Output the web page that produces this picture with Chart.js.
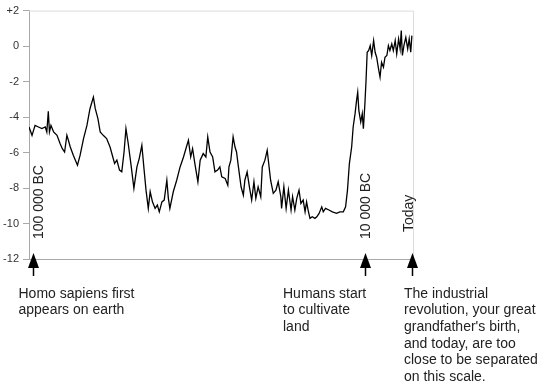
<!DOCTYPE html>
<html>
<head>
<title>Temperature, last 100 000 years</title>
<script src="https://cdn.jsdelivr.net/npm/chart.js"></script>
<style>
    body { margin: 0; background: #fff; }
    canvas { display: block; }
</style>
</head>
<body>
<canvas id="tempChart" width="544" height="390"></canvas>
<script>
// thousands of years before today (negative = the past)
const years = [-101.1,-100.3,-99.5,-98.6,-97.7,-96.8,-96.4,-96.0,-95.7,-95.3,-94.6,-93.7,-92.9,-92.3,-91.7,-91.1,-90.7,-90.2,-89.4,-88.3,
    -87.6,-86.7,-85.8,-85.0,-84.1,-83.6,-82.9,-82.3,-81.5,-80.6,-79.7,-79.1,-78.5,-77.9,-77.2,-76.6,-76.0,-75.5,-74.9,-74.2,
    -73.4,-72.6,-72.0,-71.3,-70.7,-70.2,-69.6,-69.1,-68.5,-67.8,-67.2,-66.7,-66.0,-65.4,-64.7,-64.3,-63.9,-63.0,-62.1,-61.2,
    -60.3,-59.4,-59.0,-58.4,-57.9,-57.3,-56.5,-55.9,-55.1,-54.4,-53.9,-53.3,-52.6,-52.0,-51.3,-50.7,-50.2,-49.3,-48.6,-48.3,
    -47.8,-47.2,-46.7,-46.3,-45.8,-45.1,-44.5,-44.1,-43.5,-42.9,-42.3,-41.7,-41.2,-40.6,-39.9,-39.5,-38.8,-38.2,-37.7,-37.3,
    -36.6,-35.9,-35.3,-34.6,-34.4,-33.8,-33.2,-32.6,-31.9,-31.5,-30.9,-30.4,-29.8,-29.3,-28.7,-28.2,-27.8,-27.4,-26.9,-26.3,
    -25.6,-25.1,-24.5,-23.8,-23.4,-22.8,-21.9,-21.0,-19.9,-19.0,-18.1,-17.5,-17.0,-16.5,-15.9,-15.5,-15.0,-14.6,-14.3,-14.0,
    -13.5,-13.1,-12.8,-12.4,-12.1,-11.8,-11.4,-11.0,-10.6,-10.1,-9.7,-9.3,-8.8,-8.4,-8.0,-7.5,-7.1,-6.6,-6.2,-5.8,
    -5.3,-4.9,-4.4,-4.0,-3.5,-3.1,-2.8,-2.5,-2.1,-1.6,-1.1,-0.7,-0.3,0.0];

// temperature difference from today, degrees
const temps = [-4.56,-5.03,-4.47,-4.56,-4.65,-4.56,-4.84,-3.68,-4.84,-4.47,-4.84,-5.03,-5.49,-5.78,-5.97,-5.03,-5.31,-5.69,-6.15,-6.71,
    -6.15,-5.21,-4.47,-3.53,-2.88,-3.53,-4.09,-4.84,-5.03,-5.21,-5.69,-6.15,-6.62,-6.43,-6.99,-7.09,-5.97,-4.65,-5.49,-6.62,
    -8.02,-6.81,-6.34,-5.59,-6.99,-8.12,-9.15,-8.21,-8.78,-9.15,-8.96,-9.34,-8.78,-8.68,-7.56,-8.58,-9.15,-8.21,-7.56,-6.81,
    -6.25,-5.59,-5.31,-6.25,-5.78,-6.62,-7.65,-6.43,-6.06,-6.25,-5.12,-5.97,-6.25,-7.09,-6.99,-6.81,-7.37,-7.46,-7.84,-6.81,
    -6.43,-5.12,-5.69,-5.97,-6.81,-7.93,-8.40,-7.56,-7.09,-7.93,-8.68,-7.65,-8.58,-7.93,-8.49,-6.81,-6.43,-5.87,-6.81,-7.56,
    -8.30,-8.12,-7.65,-8.49,-9.15,-7.93,-9.15,-8.12,-9.24,-8.49,-9.24,-8.58,-8.12,-8.87,-8.68,-9.34,-8.78,-9.24,-9.71,-9.62,
    -9.71,-9.62,-9.43,-9.06,-9.34,-9.15,-9.24,-9.34,-9.43,-9.34,-9.34,-9.06,-8.12,-6.62,-5.69,-4.56,-3.81,-3.06,-2.60,-3.62,
    -4.28,-3.81,-4.65,-3.25,-1.94,-0.35,-0.25,0.03,-0.53,0.31,-0.35,-0.63,-1.28,-1.75,-0.91,-1.19,-0.63,-0.53,0.03,-0.25,
    0.12,-0.25,0.31,-0.44,0.40,-0.16,0.87,-0.53,0.03,0.49,-0.16,0.40,-0.35,0.59];

const yTicks = [2, 0, -2, -4, -6, -8, -10, -12];

const markerYears = [-100, -12.4, 0];
const markerLabels = ['100 000 BC', '10 000 BC', 'Today'];
const markerNotes = [
    ['Homo sapiens first', 'appears on earth'],
    ['Humans start', 'to cultivate', 'land'],
    ['The industrial', 'revolution, your great', "grandfather's birth,", 'and today, are too', 'close to be separated', 'on this scale.']
];

const FONT = '"Liberation Sans", Arial, sans-serif';

// top and right light border, darker bottom axis line
const frame = {
    id: 'frame',
    beforeDatasetsDraw(chart) {
        const { ctx, chartArea: a } = chart;
        ctx.save();
        ctx.lineWidth = 1;
        ctx.strokeStyle = '#dcdcdc';
        ctx.beginPath();
        ctx.moveTo(a.left, a.top + 0.5);
        ctx.lineTo(a.right + 0.5, a.top + 0.5);
        ctx.lineTo(a.right + 0.5, a.bottom);
        ctx.stroke();
        ctx.strokeStyle = '#a8a8a8';
        ctx.beginPath();
        ctx.moveTo(a.left, a.bottom + 0.5);
        ctx.lineTo(a.right + 0.5, a.bottom + 0.5);
        ctx.stroke();
        ctx.restore();
    }
};

// arrows, rotated date labels and the notes below
const markers = {
    id: 'markers',
    afterDraw(chart, args, opts) {
        const { ctx, chartArea: a, scales: { x } } = chart;
        ctx.save();
        markerYears.forEach((yr, i) => {
            const px = Math.round(x.getPixelForValue(yr)) + 0.5;
            ctx.fillStyle = '#000';
            ctx.strokeStyle = '#000';
            ctx.beginPath();
            ctx.moveTo(px, a.bottom - 6);
            ctx.lineTo(px - 5.5, a.bottom + 9);
            ctx.lineTo(px + 5.5, a.bottom + 9);
            ctx.closePath();
            ctx.fill();
            ctx.lineWidth = 1.5;
            ctx.beginPath();
            ctx.moveTo(px, a.bottom + 9);
            ctx.lineTo(px, a.bottom + 17);
            ctx.stroke();

            ctx.fillStyle = '#222';
            ctx.font = '14px ' + FONT;
            ctx.textAlign = 'left';
            ctx.textBaseline = 'alphabetic';
            ctx.save();
            ctx.translate(px + opts.labelShift[i], a.bottom - opts.labelLift[i]);
            ctx.rotate(-Math.PI / 2);
            ctx.fillText(markerLabels[i], 0, 0);
            ctx.restore();

            markerNotes[i].forEach((line, j) => {
                ctx.fillText(line, px + opts.noteShift[i], a.bottom + 38.5 + j * 16.7);
            });
        });
        ctx.restore();
    }
};

new Chart(document.getElementById('tempChart'), {
    type: 'line',
    data: {
        datasets: [{
            data: years.map((yr, i) => ({ x: yr, y: temps[i] })),
            borderColor: '#000',
            borderWidth: 1.3,
            pointRadius: 0,
            tension: 0
        }]
    },
    options: {
        responsive: false,
        animation: false,
        layout: { padding: { top: 10, right: 131, bottom: 131, left: 0 } },
        plugins: {
            legend: { display: false },
            tooltip: { enabled: false },
            markers: {
                labelShift: [9, 4.5, 0.5],
                labelLift: [20, 20, 27],
                noteShift: [-15, -82.5, -8.5]
            }
        },
        scales: {
            x: { type: 'linear', min: -101.1, max: 0.3, display: false },
            y: {
                min: -12,
                max: 2,
                afterBuildTicks: s => { s.ticks = yTicks.map(v => ({ value: v })); },
                afterFit: s => { s.width = 29; },
                ticks: {
                    callback: v => (v > 0 ? '+' + v : String(v)),
                    color: '#333',
                    font: { family: FONT, size: 11 },
                    padding: 4
                },
                grid: { drawOnChartArea: false, tickLength: 6, color: '#a8a8a8' },
                border: { color: '#a8a8a8' }
            }
        }
    },
    plugins: [frame, markers]
});
</script>
</body>
</html>
